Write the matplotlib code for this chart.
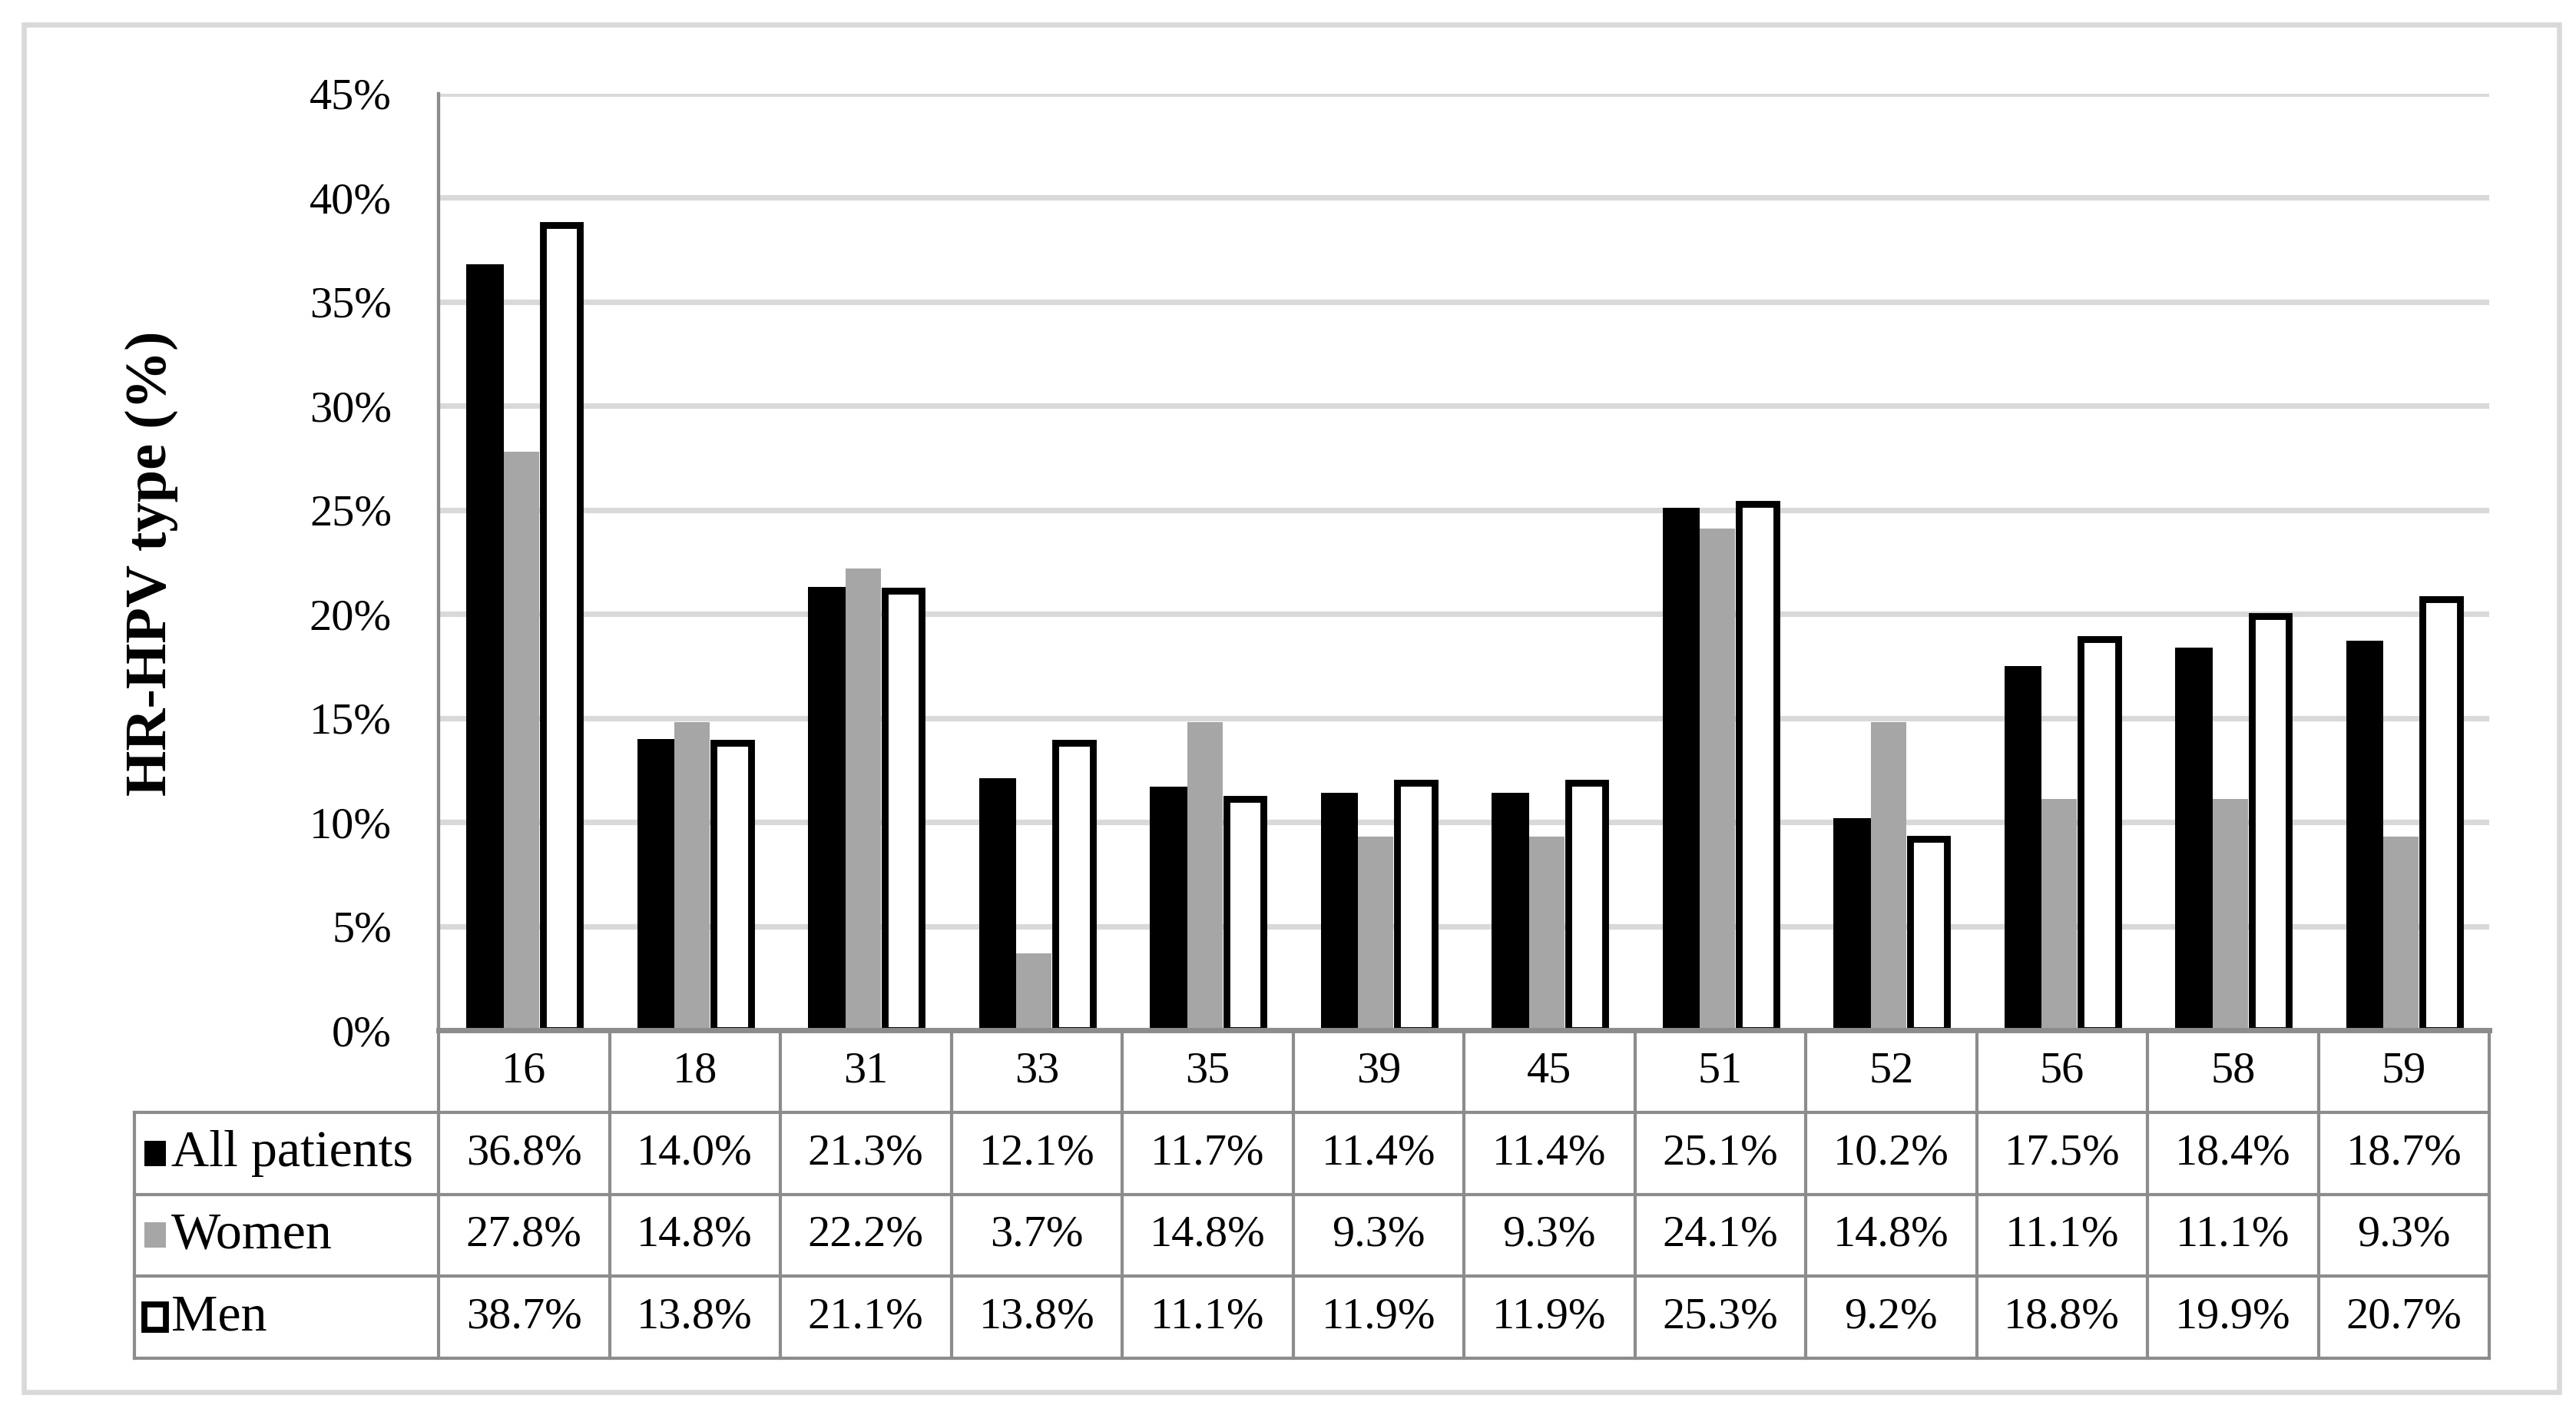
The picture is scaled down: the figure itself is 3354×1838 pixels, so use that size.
import numpy as np
import matplotlib
matplotlib.use("Agg")
import matplotlib.pyplot as plt
from matplotlib.patches import Rectangle

plt.rcParams["font.family"] = ["Liberation Serif", "DejaVu Serif"]

# data
hpv_types = ["16", "18", "31", "33", "35", "39", "45", "51", "52", "56", "58", "59"]
all_patients = [36.8, 14.0, 21.3, 12.1, 11.7, 11.4, 11.4, 25.1, 10.2, 17.5, 18.4, 18.7]
women = [27.8, 14.8, 22.2, 3.7, 14.8, 9.3, 9.3, 24.1, 14.8, 11.1, 11.1, 9.3]
men = [38.7, 13.8, 21.1, 13.8, 11.1, 11.9, 11.9, 25.3, 9.2, 18.8, 19.9, 20.7]
series_names = ["All patients", "Women", "Men"]
y_ticks = [0, 5, 10, 15, 20, 25, 30, 35, 40, 45]

W, H, DPI = 3354, 1838, 200
GRID = "#d9d9d9"
LINE = "#8c8c8c"
FS = 21


def fx(px):
    return px / W


def fy(py):
    return 1 - py / H


fig = plt.figure(figsize=(W / DPI, H / DPI), dpi=DPI)
fig.patches.append(Rectangle((fx(31), fy(1812)), fx(3332) - fx(31), fy(32) - fy(1812),
                             transform=fig.transFigure, fill=False, edgecolor=GRID, lw=2.4))

# bar panel
x_left, x_right, y_top, y_zero, y_bot = 571, 3241, 122, 1341, 1768
ax = fig.add_axes([fx(x_left), fy(y_zero), fx(x_right) - fx(x_left), fy(y_top) - fy(y_zero)])
x = np.arange(len(hpv_types))
ax.bar(x - 0.228, all_patients, width=0.22, color="black", zorder=3)
ax.bar(x - 0.015, women, width=0.207, color="#a6a6a6", zorder=3)
ax.bar(x + 0.219, men, width=0.22, color="white", edgecolor="black", lw=3.2, zorder=3)
ax.set_xlim(-0.5, len(hpv_types) - 0.5)
ax.set_ylim(0, 45)
ax.set_xticks([])
ax.set_yticks(y_ticks)
ax.set_yticklabels([f"{v}%" for v in y_ticks])
ax.tick_params(axis="y", length=0, pad=22, labelsize=FS)
ax.yaxis.grid(True, color=GRID, lw=2.6)
ax.set_axisbelow(True)
for s in ["top", "right", "bottom"]:
    ax.spines[s].set_visible(False)
ax.spines["left"].set_color(LINE)
ax.spines["left"].set_linewidth(1.55)

fig.text(fx(197), fy(733), "HR-HPV type (%)", rotation=90, fontsize=27.5,
         fontweight="bold", ha="center", va="center")

# data table below
t_left = 175
col_w = (x_right - x_left) / len(hpv_types)
x0 = -0.5 - (x_left - t_left) / col_w
tax = fig.add_axes([fx(t_left), fy(y_bot), fx(x_right) - fx(t_left), fy(y_zero) - fy(y_bot)])
tax.set_xlim(x0, len(hpv_types) - 0.5)
tax.set_ylim(4, 0)
tax.axis("off")

xe = len(hpv_types) - 0.5
tax.plot([-0.5, xe], [0, 0], color=LINE, lw=2.5, clip_on=False, zorder=4)
for r in range(1, 5):
    tax.plot([x0, xe], [r, r], color=LINE, lw=1.5, clip_on=False)
for k in range(len(hpv_types) + 1):
    tax.plot([-0.5 + k, -0.5 + k], [0, 4], color=LINE, lw=1.5, clip_on=False)
tax.plot([x0, x0], [1, 4], color=LINE, lw=1.5, clip_on=False)

for i, t in enumerate(hpv_types):
    tax.text(i, 0.5, t, ha="center", va="center", fontsize=FS)

rows = [all_patients, women, men]
for r, vals in enumerate(rows):
    for i, v in enumerate(vals):
        tax.text(i, r + 1.5, f"{v:.1f}%", ha="center", va="center", fontsize=FS)


def xd(px):
    return x0 + (px - t_left) / col_w


row_px = (y_bot - y_zero) / 4
sq_h = 33 / row_px
styles = [dict(facecolor="black", edgecolor="black", lw=0),
          dict(facecolor="#a6a6a6", edgecolor="#a6a6a6", lw=0),
          dict(facecolor="white", edgecolor="black", lw=2.8)]
for r, (name, st) in enumerate(zip(series_names, styles)):
    yc = r + 1.5
    tax.add_patch(Rectangle((xd(188), yc - sq_h / 2), xd(216) - xd(188), sq_h, **st))
    tax.text(xd(223), yc, name, ha="left", va="center", fontsize=24.5)

fig.savefig("out.png", dpi=DPI)
